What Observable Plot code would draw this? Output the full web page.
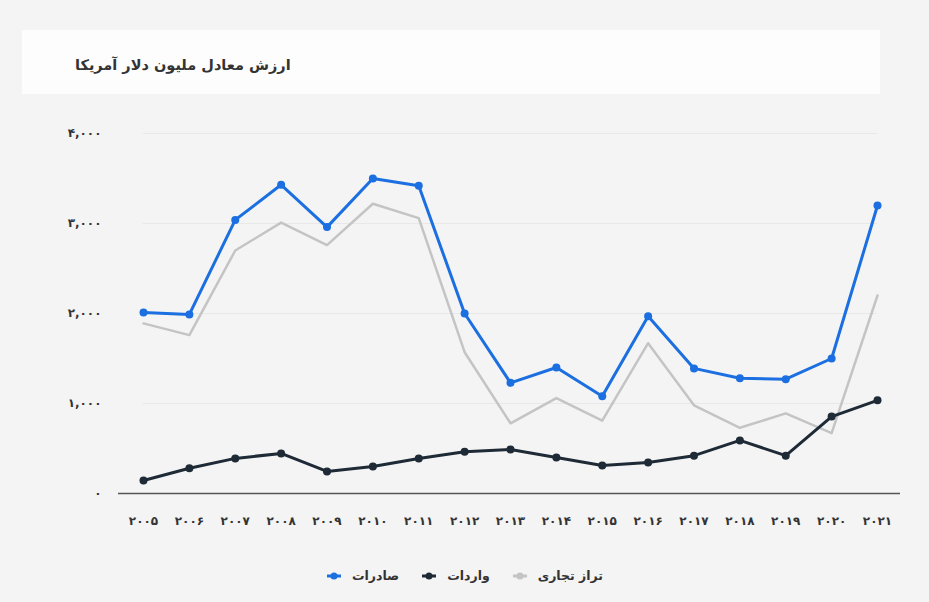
<!DOCTYPE html>
<html>
<head>
<meta charset="utf-8">
<script src="https://cdn.jsdelivr.net/npm/d3@7"></script>
<script src="https://cdn.jsdelivr.net/npm/@observablehq/plot@0.6"></script>
<style>
  html, body { margin: 0; padding: 0; }
  body { width: 929px; height: 602px; background: #f4f4f4; font-family: "DejaVu Sans", sans-serif; overflow: hidden; }
  #wrap { position: relative; width: 929px; height: 602px; }
  #titlebox { position: absolute; left: 22px; top: 30px; width: 858px; height: 64px; background: #fdfdfd; }
  #title { position: absolute; left: 75px; top: 57px; font-size: 14.5px; font-weight: bold; color: #333; direction: rtl; }
  #chart { position: absolute; left: 0; top: 100px; }
  #legend { position: absolute; top: 568px; left: 0; width: 929px; display: flex; justify-content: center; align-items: center; font-size: 12.5px; font-weight: bold; color: #333; }
  .item { display: flex; align-items: center; margin: 0 11px; }
  .item span.t { direction: rtl; margin-left: 10px; }
</style>
</head>
<body>
<div id="wrap">
  <div id="titlebox"></div>
  <div id="title">ارزش معادل ملیون دلار آمریکا</div>
  <div id="chart"></div>
  <div id="legend"></div>
</div>
<script>
const years = [2005, 2006, 2007, 2008, 2009, 2010, 2011, 2012, 2013, 2014, 2015, 2016, 2017, 2018, 2019, 2020, 2021];
const yearLabels = ["۲۰۰۵", "۲۰۰۶", "۲۰۰۷", "۲۰۰۸", "۲۰۰۹", "۲۰۱۰", "۲۰۱۱", "۲۰۱۲", "۲۰۱۳", "۲۰۱۴", "۲۰۱۵", "۲۰۱۶", "۲۰۱۷", "۲۰۱۸", "۲۰۱۹", "۲۰۲۰", "۲۰۲۱"];
const exportsVals = [2010, 1990, 3040, 3430, 2960, 3500, 3420, 2000, 1230, 1400, 1080, 1970, 1390, 1280, 1270, 1500, 3200];
const importsVals = [145, 280, 390, 445, 245, 300, 390, 465, 490, 400, 310, 345, 420, 590, 420, 855, 1035];
const balanceVals = [1890, 1760, 2700, 3010, 2760, 3220, 3060, 1570, 780, 1060, 810, 1670, 980, 730, 890, 670, 2200];
const yTickValues = [0, 1000, 2000, 3000, 4000];
const yTickLabels = ["۰", "۱,۰۰۰", "۲,۰۰۰", "۳,۰۰۰", "۴,۰۰۰"];
const seriesNames = ["صادرات", "واردات", "تراز تجاری"];
const seriesColors = ["#1b6fe0", "#1e2a36", "#c4c4c4"];

const data = [];
years.forEach((y, i) => {
  data.push({year: y, value: exportsVals[i], series: seriesNames[0]});
  data.push({year: y, value: importsVals[i], series: seriesNames[1]});
  data.push({year: y, value: balanceVals[i], series: seriesNames[2]});
});

const chart = Plot.plot({
  width: 929,
  height: 440,
  marginLeft: 143,
  marginRight: 52,
  marginTop: 33,
  marginBottom: 47,
  style: {background: "transparent", fontFamily: "DejaVu Sans, sans-serif", fontSize: "12px", fontWeight: "bold", color: "#333"},
  x: {domain: [2005, 2021], ticks: years, tickFormat: d => yearLabels[years.indexOf(d)], tickSize: 0, tickPadding: 23, label: null},
  y: {domain: [0, 4000], ticks: yTickValues, tickFormat: d => yTickLabels[yTickValues.indexOf(d)], tickSize: 0, tickPadding: 42, label: null},
  color: {domain: seriesNames, range: seriesColors},
  marks: [
    Plot.gridY(yTickValues.filter(v => v > 0), {stroke: "#e8e8e8", strokeOpacity: 1}),
    Plot.ruleY([0], {stroke: "#555", strokeWidth: 1.5, insetLeft: -25, insetRight: -23}),
    Plot.lineY(data.filter(d => d.series === seriesNames[2]), {x: "year", y: "value", stroke: "series", strokeWidth: 2.5}),
    Plot.lineY(data.filter(d => d.series === seriesNames[1]), {x: "year", y: "value", stroke: "series", strokeWidth: 3}),
    Plot.dot(data.filter(d => d.series === seriesNames[1]), {x: "year", y: "value", fill: "series", r: 4}),
    Plot.lineY(data.filter(d => d.series === seriesNames[0]), {x: "year", y: "value", stroke: "series", strokeWidth: 3}),
    Plot.dot(data.filter(d => d.series === seriesNames[0]), {x: "year", y: "value", fill: "series", r: 4})
  ]
});
document.getElementById("chart").appendChild(chart);

const legend = document.getElementById("legend");
seriesNames.forEach((name, i) => {
  const item = document.createElement("div");
  item.className = "item";
  item.innerHTML = `<svg width="16" height="10"><line x1="1" y1="5" x2="15" y2="5" stroke="${seriesColors[i]}" stroke-width="3"/><circle cx="8" cy="5" r="3.5" fill="${seriesColors[i]}"/></svg><span class="t">${name}</span>`;
  legend.appendChild(item);
});
</script>
</body>
</html>
